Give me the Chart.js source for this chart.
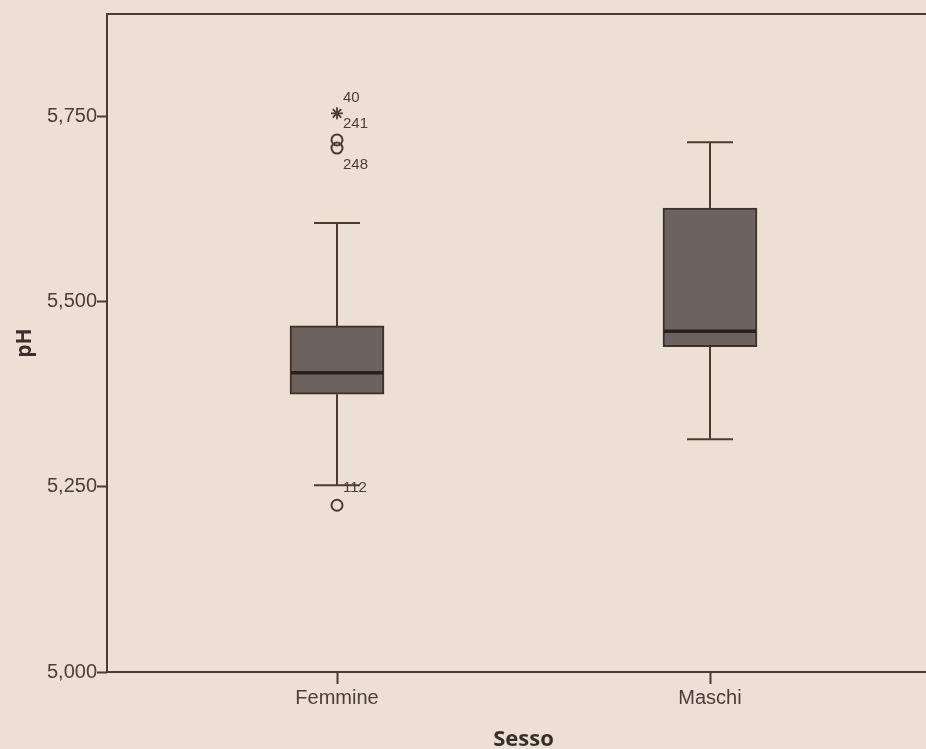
<!DOCTYPE html>
<html>
<head>
<meta charset="utf-8">
<script src="https://cdn.jsdelivr.net/npm/chart.js@4/dist/chart.umd.min.js"></script>
<style>
    html, body { margin: 0; padding: 0; background: #ece0d5; overflow: hidden; }
    #wrap { width: 926px; height: 749px; overflow: hidden; }
    #box { width: 980px; height: 749px; }
</style>
</head>
<body>
<div id="wrap"><div id="box"><canvas id="phChart"></canvas></div></div>
<script>
// box plot data
const categories = ['Femmine', 'Maschi'];
const q1 = [5.375, 5.439];
const median = [5.404, 5.460];
const q3 = [5.467, 5.626];
const whiskerLow = [5.252, 5.314];
const whiskerHigh = [5.606, 5.715];

// outliers (SPSS case numbers)
const outlierCategory = [0, 0, 0, 0];
const outlierValue = [5.754, 5.718, 5.707, 5.225];
const outlierCase = ['40', '241', '248', '112'];
const outlierExtreme = [true, false, false, false];

const yTicks = [5.0, 5.25, 5.5, 5.75];

// label nudges for the case numbers (px)
const caseLabelDy = [-15, -16, 17, -17];

const lineColor = '#4b3b34';
const textColor = '#4a3e38';

drawBoxPlot();

function drawBoxPlot() {
    const ctx = document.getElementById('phChart');

    const boxData = categories.map(function (c, i) {
        return { x: i + 1, y: [q1[i], q3[i]] };
    });
    const mildPoints = [];
    const extremePoints = [];
    outlierValue.forEach(function (v, i) {
        const p = { x: outlierCategory[i] + 1, y: v };
        if (outlierExtreme[i]) extremePoints.push(p); else mildPoints.push(p);
    });

    const boxExtras = {
        id: 'boxExtras',
        beforeDatasetsDraw: function (chart) {
            const c = chart.ctx, x = chart.scales.x, y = chart.scales.y;
            c.save();
            c.strokeStyle = lineColor;
            c.lineWidth = 2;
            categories.forEach(function (cat, i) {
                const px = x.getPixelForValue(i + 1);
                c.beginPath();
                c.moveTo(px, y.getPixelForValue(q3[i]));
                c.lineTo(px, y.getPixelForValue(whiskerHigh[i]));
                c.moveTo(px - 23, y.getPixelForValue(whiskerHigh[i]));
                c.lineTo(px + 23, y.getPixelForValue(whiskerHigh[i]));
                c.moveTo(px, y.getPixelForValue(q1[i]));
                c.lineTo(px, y.getPixelForValue(whiskerLow[i]));
                c.moveTo(px - 23, y.getPixelForValue(whiskerLow[i]));
                c.lineTo(px + 23, y.getPixelForValue(whiskerLow[i]));
                c.stroke();
            });
            c.restore();
        },
        afterDatasetsDraw: function (chart) {
            const c = chart.ctx, x = chart.scales.x, y = chart.scales.y, a = chart.chartArea;
            const bars = chart.getDatasetMeta(0).data;
            c.save();
            // medians
            c.strokeStyle = '#2c201c';
            c.lineWidth = 3.5;
            categories.forEach(function (cat, i) {
                const half = bars[i].width / 2 - 1;
                const px = x.getPixelForValue(i + 1);
                const py = y.getPixelForValue(median[i]);
                c.beginPath();
                c.moveTo(px - half, py);
                c.lineTo(px + half, py);
                c.stroke();
            });
            // case numbers next to outliers
            c.fillStyle = textColor;
            c.font = '15px "Liberation Sans", Arial, sans-serif';
            c.textAlign = 'left';
            c.textBaseline = 'middle';
            outlierValue.forEach(function (v, i) {
                const px = x.getPixelForValue(outlierCategory[i] + 1);
                const py = y.getPixelForValue(v);
                c.fillText(outlierCase[i], px + 6, py + caseLabelDy[i]);
            });
            // frame
            c.strokeStyle = lineColor;
            c.lineWidth = 2;
            c.strokeRect(a.left, a.top, a.right - a.left, a.bottom - a.top);
            c.restore();
        }
    };

    new Chart(ctx, {
        data: {
            datasets: [{
                type: 'bar',
                label: 'pH',
                data: boxData,
                backgroundColor: '#6c635e',
                borderColor: '#3f302b',
                borderWidth: 2,
                borderSkipped: false,
                barThickness: 94
            }, {
                type: 'scatter',
                label: 'Outlier',
                data: mildPoints,
                pointStyle: 'circle',
                pointRadius: 5.5,
                borderColor: lineColor,
                borderWidth: 2,
                backgroundColor: 'transparent'
            }, {
                type: 'scatter',
                label: 'Estremo',
                data: extremePoints,
                pointStyle: 'star',
                pointRadius: 6,
                borderColor: lineColor,
                borderWidth: 1.8,
                backgroundColor: 'transparent'
            }]
        },
        options: {
            responsive: true,
            maintainAspectRatio: false,
            animation: false,
            layout: {
                padding: { top: 14, right: 40, left: 0, bottom: 0 }
            },
            plugins: {
                legend: { display: false },
                tooltip: { enabled: false }
            },
            scales: {
                x: {
                    type: 'linear',
                    offset: false,
                    min: 1 - 230 / 373,
                    max: 2 + 230 / 373,
                    afterBuildTicks: function (scale) {
                        scale.ticks = categories.map(function (c, i) { return { value: i + 1 }; });
                    },
                    afterFit: function (scale) { scale.height = 77; },
                    grid: {
                        offset: false,
                        drawOnChartArea: false,
                        tickLength: 12,
                        tickColor: lineColor,
                        tickWidth: 2
                    },
                    border: { display: false },
                    ticks: {
                        autoSkip: false,
                        maxRotation: 0,
                        padding: 2,
                        color: textColor,
                        font: { family: '"Liberation Sans", Arial, sans-serif', size: 20 },
                        callback: function (v) { return categories[v - 1]; }
                    },
                    title: {
                        display: true,
                        text: 'Sesso',
                        color: '#3a2e29',
                        padding: { top: 0, bottom: -4 },
                        font: { family: '"Open Sans", sans-serif', size: 22, weight: 'bold' }
                    }
                },
                y: {
                    min: 5.0,
                    max: 5 + 658 / 741,
                    afterBuildTicks: function (scale) {
                        scale.ticks = yTicks.map(function (v) { return { value: v }; });
                    },
                    afterFit: function (scale) { scale.width = 107; },
                    grid: {
                        drawOnChartArea: false,
                        tickLength: 10,
                        tickColor: lineColor,
                        tickWidth: 2
                    },
                    border: { display: false },
                    ticks: {
                        padding: 0,
                        color: textColor,
                        font: { family: '"Liberation Sans", Arial, sans-serif', size: 20 },
                        callback: function (v) { return v.toFixed(3).replace('.', ','); }
                    },
                    title: {
                        display: true,
                        text: 'pH',
                        color: '#3a2e29',
                        padding: { top: 12, bottom: 0 },
                        font: { family: '"Open Sans", sans-serif', size: 21, weight: 'bold' }
                    }
                }
            }
        },
        plugins: [boxExtras]
    });
}
</script>
</body>
</html>
